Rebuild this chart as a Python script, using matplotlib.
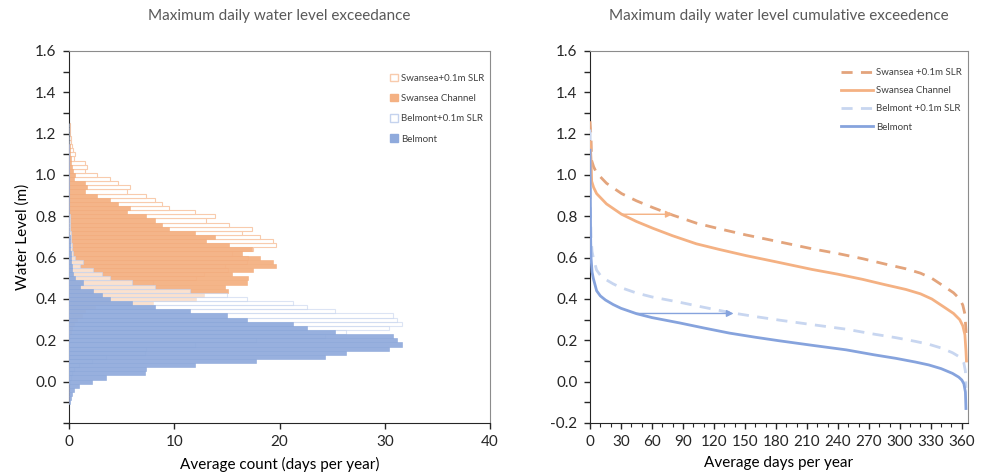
import numpy as np
import matplotlib
matplotlib.use("Agg")
import matplotlib.pyplot as plt
from matplotlib.patches import Patch
from matplotlib.ticker import MultipleLocator, FixedLocator

plt.rcParams['font.family'] = ['Lato', 'DejaVu Sans']

# histogram bins (m), 0.02 m wide, centres from -0.10 to 1.14
levels = np.round(np.arange(-0.10, 1.141, 0.02), 2)

belmont_counts = [0.1, 0.15, 0.3, 0.5, 0.95, 2.2, 3.5, 7.2, 7.3, 12.0,
                  17.8, 24.3, 26.3, 30.4, 31.6, 31.2, 30.8, 25.3, 22.6, 21.3,
                  16.9, 15.0, 11.5, 8.2, 6.0, 3.9, 3.1, 2.3, 1.0, 1.3,
                  0.6, 0.4, 0.3, 0.3, 0.2, 0.2, 0.15, 0.1, 0.1, 0.05,
                  0.05] + [0] * 22

swansea_counts = [0] * 17 + [0.2, 0.3, 0.5, 0.8, 1.2, 1.5, 2.5, 8.0, 12.1, 12.8,
                             15.1, 14.8, 16.9, 17.0, 15.5, 17.5, 19.7, 19.4, 18.1, 16.4,
                             17.4, 15.2, 13.0, 13.9, 12.0, 9.5, 8.8, 8.2, 7.3, 5.5,
                             5.8, 4.7, 3.9, 2.7, 1.55, 1.7, 1.55, 0.5, 0.6, 0.4,
                             0.3, 0.2, 0.2, 0.1, 0.1, 0.05]

slr = 0.1  # sea level rise added to the observed series

# cumulative exceedance curves (days per year exceeded, level m)
swansea_days = [0, 0.5, 1, 1.6, 3.5, 6.4, 16, 30.6, 45, 61, 80, 103, 125, 151, 180,
                215, 240, 264, 285, 306, 320, 331, 344, 352, 358, 361, 363, 364, 364.5]
swansea_level = [1.16, 1.12, 1.08, 0.97, 0.94, 0.91, 0.86, 0.81, 0.775, 0.742, 0.706, 0.667,
                 0.64, 0.61, 0.58, 0.543, 0.52, 0.495, 0.47, 0.446, 0.425, 0.40, 0.357,
                 0.33, 0.30, 0.27, 0.227, 0.15, 0.10]

belmont_days = [0, 0.3, 0.6, 1, 2, 3.2, 6.4, 10, 15, 22.5, 30, 45, 60, 87, 110, 135, 160,
                183, 215, 248, 275, 296, 315, 328, 340, 351, 357, 360, 362, 363.5, 364]
belmont_level = [1.12, 0.9, 0.7, 0.6, 0.53, 0.50, 0.44, 0.415, 0.395, 0.373, 0.355, 0.329,
                 0.31, 0.284, 0.26, 0.235, 0.215, 0.198, 0.176, 0.154, 0.13, 0.113, 0.095,
                 0.081, 0.063, 0.04, 0.022, 0.008, -0.01, -0.05, -0.13]

# arrows showing the shift (start day, end day, level)
arrow_swansea = (30.6, 80, 0.81)
arrow_belmont = (45, 139, 0.33)

c_orange = '#F4B183'
c_orange_edge = '#F8CBAD'
c_orange_dash = '#E3A47C'
c_blue = '#8FAADC'
c_blue_edge = '#C5D3EE'
c_blue_line = '#86A3DD'
c_blue_dash = '#C8D6F0'
title_col = '#595959'
fs = 11

fig = plt.figure(figsize=(9.83, 4.76), dpi=100)
ax1 = fig.add_axes([69 / 983, 1 - 423 / 476, 421 / 983, 372 / 476])
ax2 = fig.add_axes([590 / 983, 1 - 423 / 476, 378 / 983, 372 / 476])

# ---- left: histogram
h = 0.02
ax1.barh(levels + slr, swansea_counts, height=h, color='white', edgecolor=c_orange_edge,
         linewidth=0.8, zorder=2)
ax1.barh(levels, swansea_counts, height=h, color=c_orange, edgecolor='#F2AC7C',
         linewidth=0.4, alpha=0.95, zorder=3)
ax1.barh(levels + slr, belmont_counts, height=h, color='white', edgecolor=c_blue_edge,
         linewidth=0.8, alpha=0.6, zorder=4)
ax1.barh(levels, belmont_counts, height=h, color=c_blue, edgecolor='#88A4D8',
         linewidth=0.4, alpha=0.92, zorder=5)

ax1.set_xlim(0, 40)
ax1.set_ylim(-0.2, 1.6)
ax1.xaxis.set_major_locator(MultipleLocator(10))
ax1.yaxis.set_major_locator(FixedLocator(np.round(np.arange(-0.2, 1.61, 0.1), 1)))
ax1.set_yticklabels(['' if (i % 2 == 1 or i == 0) else '%.1f' % v
                     for i, v in enumerate(np.arange(-0.2, 1.61, 0.1))])
ax1.set_xlabel('Average count (days per year)', fontsize=fs, labelpad=5)
ax1.set_ylabel('Water Level (m)', fontsize=fs, labelpad=4)
ax1.set_title('Maximum daily water level exceedance', fontsize=fs, color=title_col, pad=22)

leg1 = ax1.legend(handles=[Patch(facecolor='white', edgecolor=c_orange_edge, label='Swansea+0.1m SLR'),
                           Patch(facecolor=c_orange, edgecolor=c_orange, label='Swansea Channel'),
                           Patch(facecolor='white', edgecolor=c_blue_edge, label='Belmont+0.1m SLR'),
                           Patch(facecolor=c_blue, edgecolor=c_blue, label='Belmont')],
                  loc='upper right', bbox_to_anchor=(1.0, 0.955), frameon=False, fontsize=7,
                  handlelength=0.8, handleheight=0.8, handletextpad=0.3, labelspacing=1.15,
                  borderaxespad=0.2)
for t in leg1.get_texts():
    t.set_color('#404040')

# ---- right: cumulative exceedance
sd = np.array(swansea_days)
sl = np.array(swansea_level)
bd = np.array(belmont_days)
bl = np.array(belmont_level)
ax2.plot(sd, sl + slr, color=c_orange_dash, lw=2, dashes=(4, 3), label='Swansea +0.1m SLR', zorder=3)
ax2.plot(sd, sl, color=c_orange, lw=2, label='Swansea Channel', zorder=4)
ax2.plot(bd, bl + slr, color=c_blue_dash, lw=2, dashes=(4, 3), label='Belmont +0.1m SLR', zorder=3)
ax2.plot(bd, bl, color=c_blue_line, lw=2, label='Belmont', zorder=4)

for (x0, x1, y), col in [(arrow_swansea, c_orange), (arrow_belmont, c_blue_line)]:
    ax2.annotate('', xy=(x1, y), xytext=(x0, y),
                 arrowprops=dict(arrowstyle='-|>', color=col, lw=1, mutation_scale=10,
                                 shrinkA=0, shrinkB=0), zorder=5)

ax2.set_xlim(0, 366)
ax2.set_ylim(-0.2, 1.6)
ax2.xaxis.set_major_locator(MultipleLocator(30))
ax2.xaxis.set_minor_locator(MultipleLocator(10))
ax2.yaxis.set_major_locator(FixedLocator(np.round(np.arange(-0.2, 1.61, 0.1), 1)))
ax2.set_yticklabels(['' if i % 2 == 1 else '%.1f' % v
                     for i, v in enumerate(np.arange(-0.2, 1.61, 0.1))])
ax2.set_xlabel('Average days per year', fontsize=fs, labelpad=5)
ax2.set_title('Maximum daily water level cumulative exceedence', fontsize=fs,
              color=title_col, pad=22)

leg2 = ax2.legend(loc='upper right', bbox_to_anchor=(1.0, 0.97), frameon=False, fontsize=7,
                  handlelength=3.3, handletextpad=0.3, labelspacing=0.95, borderaxespad=0.2)
for t in leg2.get_texts():
    t.set_color('#404040')

for ax in (ax1, ax2):
    ax.spines['left'].set_color('#262626')
    ax.spines['bottom'].set_color('#262626')
    ax.spines['top'].set_color('#8c8c8c')
    ax.spines['right'].set_color('#8c8c8c')
    ax.tick_params(axis='both', which='major', direction='out', length=4, width=1,
                   labelsize=fs, colors='#262626', pad=5)
    ax.tick_params(axis='x', which='minor', direction='out', length=3, width=0.8,
                   colors='#262626')

fig.savefig('out.png', dpi=100)
